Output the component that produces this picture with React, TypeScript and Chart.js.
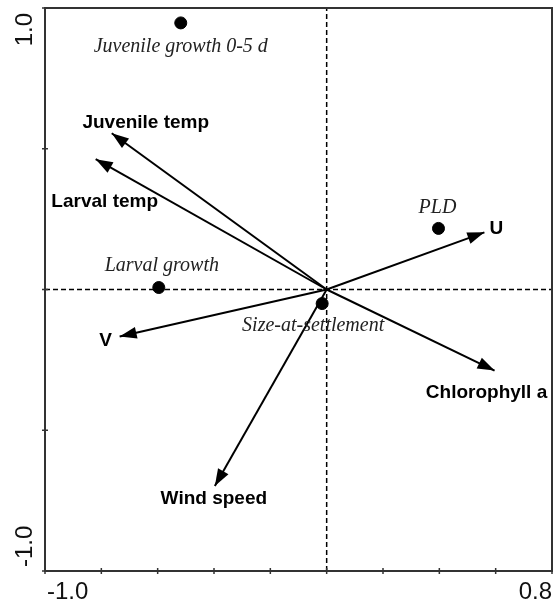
import React, { useEffect, useRef } from "react";
import { Chart, registerables } from "chart.js";

Chart.register(...registerables);

// ---- Data ----
const arrowNames = ["Juvenile temp", "Larval temp", "U", "Chlorophyll a", "V", "Wind speed"];
const arrowX = [-0.763, -0.82, 0.56, 0.596, -0.735, -0.397];
const arrowY = [0.555, 0.463, 0.203, -0.288, -0.167, -0.698];

const pointNames = ["Juvenile growth 0-5 d", "PLD", "Larval growth", "Size-at-settlement"];
const pointX = [-0.518, 0.397, -0.596, -0.016];
const pointY = [0.947, 0.217, 0.007, -0.05];

const xMin = -1.0;
const xMax = 0.8;
const yMin = -1.0;
const yMax = 1.0;
const xTickValues = [-1.0, -0.8, -0.6, -0.4, -0.2, 0, 0.2, 0.4, 0.6, 0.8];
const yTickValues = [-1.0, -0.5, 0, 0.5, 1.0];
const xTickLabels = ["-1.0", "0.8"];
const yTickLabels = ["1.0", "-1.0"];

// label offsets (pixels) from the arrow tip / point
const arrowLabelOffsets = [
  [34, -11],
  [9, 43],
  [12, -4],
  [-8, 22],
  [-14, 4],
  [-1, 13],
];
const pointLabelOffsets = [
  [0, 24],
  [-1, -21],
  [3, -22],
  [-9, 22],
];

const BOLD_FONT = "bold 19px 'Liberation Sans', Arial, sans-serif";
const ITALIC_FONT = "italic 20px 'Liberation Serif', 'Times New Roman', serif";
const AXIS_FONT = "24px 'Liberation Sans', Arial, sans-serif";

const overlayPlugin = {
  id: "overlay",
  afterDatasetsDraw(chart: any) {
    const ctx = chart.ctx;
    // arrowheads
    chart.data.datasets.forEach((ds: any, i: number) => {
      if (!ds.isArrow) return;
      const meta = chart.getDatasetMeta(i);
      const p0 = meta.data[0];
      const p1 = meta.data[1];
      const ang = Math.atan2(p1.y - p0.y, p1.x - p0.x);
      const len = 17;
      const hw = 6;
      ctx.save();
      ctx.fillStyle = "#000";
      ctx.beginPath();
      ctx.moveTo(p1.x, p1.y);
      ctx.lineTo(
        p1.x - len * Math.cos(ang) + hw * Math.sin(ang),
        p1.y - len * Math.sin(ang) - hw * Math.cos(ang)
      );
      ctx.lineTo(
        p1.x - len * Math.cos(ang) - hw * Math.sin(ang),
        p1.y - len * Math.sin(ang) + hw * Math.cos(ang)
      );
      ctx.closePath();
      ctx.fill();
      ctx.restore();
    });
  },
  afterDraw(chart: any) {
    const ctx = chart.ctx;
    const xs = chart.scales.x;
    const ys = chart.scales.y;
    const left = xs.getPixelForValue(xMin);
    const right = xs.getPixelForValue(xMax);
    const top = ys.getPixelForValue(yMax);
    const bottom = ys.getPixelForValue(yMin);

    ctx.save();
    // frame
    ctx.strokeStyle = "#333";
    ctx.lineWidth = 2;
    ctx.strokeRect(left, top, right - left, bottom - top);
    // ticks
    ctx.lineWidth = 1.5;
    ctx.beginPath();
    xTickValues.forEach((v) => {
      const px = xs.getPixelForValue(v);
      ctx.moveTo(px, bottom - 3);
      ctx.lineTo(px, bottom + 3);
    });
    yTickValues.forEach((v) => {
      const py = ys.getPixelForValue(v);
      ctx.moveTo(left - 3, py);
      ctx.lineTo(left + 3, py);
    });
    ctx.stroke();

    // axis labels
    ctx.fillStyle = "#111";
    ctx.font = AXIS_FONT;
    ctx.textBaseline = "middle";
    ctx.textAlign = "left";
    ctx.fillText(xTickLabels[0], left + 2, bottom + 21);
    ctx.textAlign = "right";
    ctx.fillText(xTickLabels[1], right, bottom + 21);

    ctx.save();
    ctx.translate(left - 20, top + 5);
    ctx.rotate(-Math.PI / 2);
    ctx.textAlign = "right";
    ctx.fillText(yTickLabels[0], 0, 0);
    ctx.restore();
    ctx.save();
    ctx.translate(left - 20, bottom - 4);
    ctx.rotate(-Math.PI / 2);
    ctx.textAlign = "left";
    ctx.fillText(yTickLabels[1], 0, 0);
    ctx.restore();

    // arrow labels
    ctx.fillStyle = "#000";
    ctx.textAlign = "center";
    ctx.textBaseline = "middle";
    ctx.font = BOLD_FONT;
    arrowNames.forEach((n, i) => {
      const px = xs.getPixelForValue(arrowX[i]) + arrowLabelOffsets[i][0];
      const py = ys.getPixelForValue(arrowY[i]) + arrowLabelOffsets[i][1];
      ctx.fillText(n, px, py);
    });
    // point labels
    ctx.fillStyle = "#222";
    ctx.font = ITALIC_FONT;
    pointNames.forEach((n, i) => {
      const px = xs.getPixelForValue(pointX[i]) + pointLabelOffsets[i][0];
      const py = ys.getPixelForValue(pointY[i]) + pointLabelOffsets[i][1];
      ctx.fillText(n, px, py);
    });
    ctx.restore();
  },
};

export default function App() {
  const ref = useRef<HTMLCanvasElement | null>(null);

  useEffect(() => {
    if (!ref.current) return;
    const datasets: any[] = [];
    datasets.push({
      type: "scatter",
      label: "points",
      data: pointX.map((x, i) => ({ x, y: pointY[i] })),
      pointRadius: 6,
      pointBackgroundColor: "#000",
      pointBorderColor: "#000",
      showLine: false,
    });
    arrowNames.forEach((n, i) => {
      datasets.push({
        type: "line",
        label: n,
        isArrow: true,
        data: [
          { x: 0, y: 0 },
          { x: arrowX[i], y: arrowY[i] },
        ],
        borderColor: "#000",
        borderWidth: 2,
        pointRadius: 0,
        fill: false,
      });
    });
    datasets.push({
      type: "line",
      label: "h0",
      data: [
        { x: xMin, y: 0 },
        { x: xMax, y: 0 },
      ],
      borderColor: "#000",
      borderWidth: 1.5,
      borderDash: [5, 3],
      pointRadius: 0,
    });
    datasets.push({
      type: "line",
      label: "v0",
      data: [
        { x: 0, y: yMin },
        { x: 0, y: yMax },
      ],
      borderColor: "#000",
      borderWidth: 1.5,
      borderDash: [5, 3],
      pointRadius: 0,
    });

    const chart = new Chart(ref.current, {
      type: "scatter",
      data: { datasets },
      options: {
        animation: false,
        responsive: false,
        layout: { autoPadding: false, padding: { left: 45, right: 3, top: 8, bottom: 36 } },
        plugins: { legend: { display: false }, tooltip: { enabled: false } },
        scales: {
          x: { type: "linear", min: xMin, max: xMax, display: false },
          y: { type: "linear", min: yMin, max: yMax, display: false },
        },
      },
      plugins: [overlayPlugin],
    } as any);
    return () => chart.destroy();
  }, []);

  return (
    <div style={{ position: "absolute", left: 0, top: 0, width: 555, height: 607, background: "#fff" }}>
      <canvas ref={ref} width={555} height={607} />
    </div>
  );
}
